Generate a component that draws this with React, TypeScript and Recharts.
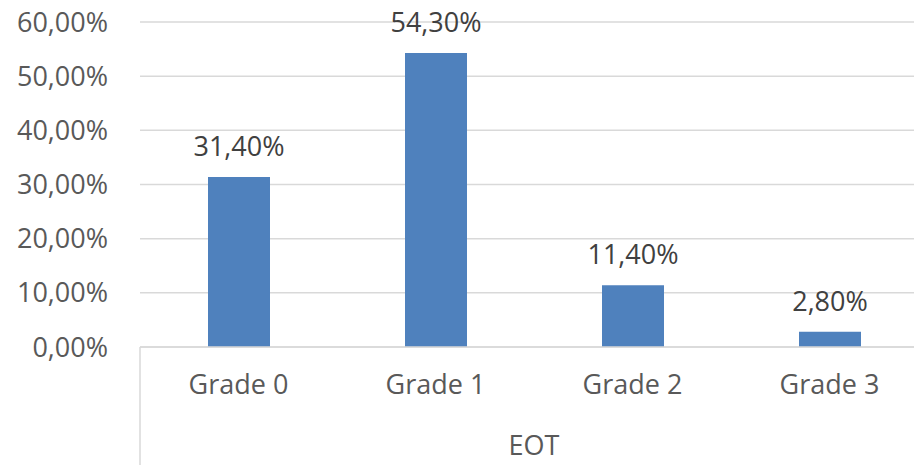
import { BarChart, Bar, XAxis, YAxis, CartesianGrid, LabelList } from "recharts";

const grades = ["Grade 0", "Grade 1", "Grade 2", "Grade 3"];
const shares = [31.4, 54.3, 11.4, 2.8];
const yTicks = [0, 10, 20, 30, 40, 50, 60];
const groupLabel = "EOT";

const data = grades.map((grade, i) => ({ grade, share: shares[i] }));

const FONT = "'Open Sans', sans-serif";
const pct = (v: number) => v.toFixed(2).replace(".", ",") + "%";

function GradeTick(props: any) {
  const { x, y, payload, index, height } = props;
  const left = x - (payload.offset ?? 0);
  return (
    <g>
      <text
        x={x}
        y={y + 38}
        dy="0.35em"
        textAnchor="middle"
        fill="#595959"
        fontSize={27}
        fontFamily={FONT}
      >
        {payload.value}
      </text>
      {index === 0 && (
        <line x1={left} y1={y} x2={left} y2={y + (height ?? 118)} stroke="#d9d9d9" strokeWidth={1.5} />
      )}
    </g>
  );
}

export default function App() {
  // the original plot runs past the right edge, so the chart is clipped at 914px
  return (
    <div
      style={{
        position: "absolute",
        left: 0,
        top: 0,
        width: 914,
        height: 465,
        overflow: "hidden",
        background: "#fff",
      }}
    >
      <BarChart
        width={928}
        height={465}
        data={data}
        margin={{ top: 22, right: 0, bottom: 0, left: 0 }}
      >
        <CartesianGrid vertical={false} stroke="#d9d9d9" strokeWidth={1.5} />
        <XAxis
          dataKey="grade"
          height={118}
          tickSize={0}
          tickMargin={0}
          tickLine={false}
          axisLine={{ stroke: "#d9d9d9", strokeWidth: 1.5 }}
          tick={<GradeTick />}
          label={{
            value: groupLabel,
            position: "insideBottom",
            offset: 10,
            fill: "#595959",
            fontSize: 27,
            fontFamily: FONT,
          }}
        />
        <YAxis
          width={140}
          domain={[0, 60]}
          ticks={yTicks}
          tickFormatter={pct}
          axisLine={false}
          tickLine={false}
          tickSize={0}
          tickMargin={32}
          tick={{ fill: "#595959", fontSize: 27, fontFamily: FONT }}
        />
        <Bar dataKey="share" fill="#4f81bd" barSize={62} isAnimationActive={false}>
          <LabelList
            dataKey="share"
            position="top"
            offset={21}
            formatter={(v: any) => pct(Number(v))}
            fill="#404040"
            fontSize={27}
            fontFamily={FONT}
          />
        </Bar>
      </BarChart>
    </div>
  );
}
